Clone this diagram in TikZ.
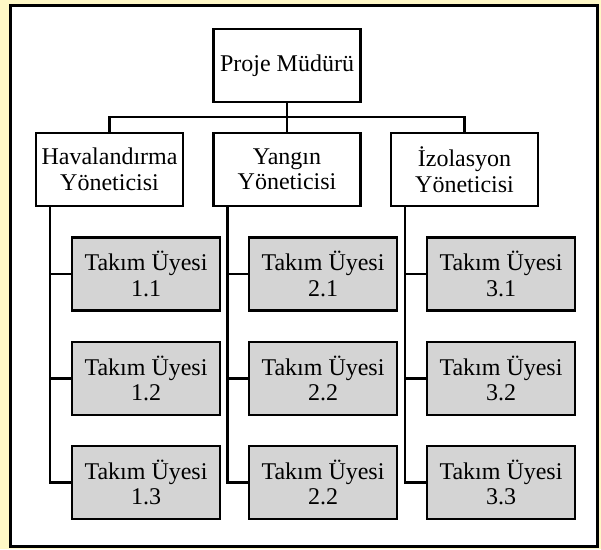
\documentclass[tikz,border=0pt]{standalone}
\usepackage{fontspec}
\setmainfont{Liberation Serif}
\usepackage{tikz}
\usetikzlibrary{calc}
\usepackage{xcolor}

\definecolor{pagebg}{RGB}{255,248,198}
\definecolor{membergray}{RGB}{212,212,212}

\tikzset{
  orgbox/.style={draw=black, line width=2.2pt, fill=white, minimum width=147pt,
    minimum height=73pt, inner sep=0pt, align=center,
    font=\fontsize{24}{25.5}\selectfont},
  memberbox/.style={orgbox, fill=membergray, minimum width=148pt},
  link/.style={draw=black, line width=2.2pt}
}

\begin{document}
\begin{tikzpicture}[x=1pt,y=-1pt]

% frame
\fill[pagebg] (0,0) rectangle (601,549);
\draw[line width=2.8pt, fill=white] (10.5,5.5) rectangle (597.5,546.5);

% top of the chart
\node[orgbox] (pm) at (287,65.5) {Proje Müdürü};

\node[orgbox] (hav) at (109.5,169.5) {Havalandırma\\Yöneticisi};
\node[orgbox] (yan) at (287,169.5) {Yangın\\Yöneticisi};
\node[orgbox] (izo) at (464.5,169.5) {İzolasyon\\Yöneticisi};

\coordinate (bus) at (287,117);
\draw[link] (pm.south) -- (bus);
\draw[link] (hav.north) |- (bus) -| (izo.north);
\draw[link] (bus) -- (yan.north);

% team members under each manager
\foreach \m/\c/\x/\a/\b/\d in {hav/1/146/1.1/1.2/1.3, yan/2/323/2.1/2.2/2.2, izo/3/501/3.1/3.2/3.3} {
  \node[memberbox] (t\c1) at (\x,274) {Takım Üyesi\\\a};
  \node[memberbox] (t\c2) at (\x,378.5) {Takım Üyesi\\\b};
  \node[memberbox] (t\c3) at (\x,482.5) {Takım Üyesi\\\d};
  \foreach \r in {1,2,3}
    \draw[link] ([xshift=15pt]\m.south west) |- (t\c\r.west);
}

\end{tikzpicture}
\end{document}
